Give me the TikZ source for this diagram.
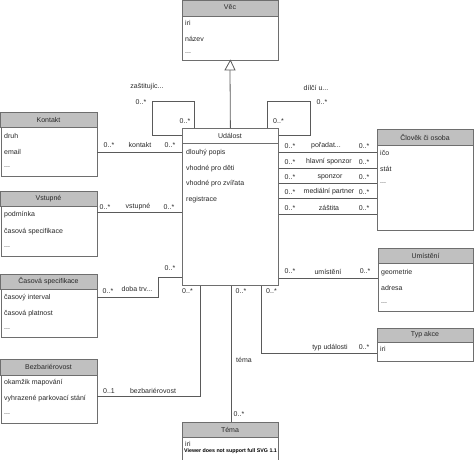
\documentclass[tikz,border=0pt]{standalone}
\usepackage{fontspec}
\setmainfont{Liberation Sans}
\usetikzlibrary{calc}
\definecolor{hdrc}{RGB}{192,192,192}
\definecolor{boxc}{RGB}{110,110,110}
\definecolor{linec}{RGB}{90,90,90}
\definecolor{textc}{RGB}{40,40,40}
\begin{document}
\begin{tikzpicture}[x=1pt,y=-1pt,
  cls/.style={draw=boxc, line width=0.8pt, fill=white, rectangle, inner sep=0pt, anchor=north west},
  hdr/.style={draw=boxc, line width=0.8pt, fill=hdrc},
  txt/.style={font=\fontsize{7}{8}\selectfont, text=textc, inner sep=0pt},
  attr/.style={txt, anchor=west},
  assoc/.style={draw=linec, line width=0.8pt}]
\useasboundingbox (0,0) rectangle (474,459);

% ---------- Vec ----------
\node[cls, minimum width=96pt, minimum height=59pt] (vec) at (182,0.5) {};
\draw[hdr] (vec.north west) rectangle ($(vec.north east)+(0,16)$);
\node[txt] (vech) at (230,7) {Věc};
\node[attr] (veca1) at (185,23) {iri};
\node[attr] (veca2) at (185,39) {název};
\node[attr] (veca3) at (185,53) {...};

% ---------- Udalost ----------
\node[cls, minimum width=96pt, minimum height=157pt] (udalost) at (182,128) {};
\draw[draw=boxc, line width=0.8pt] ($(udalost.north west)+(0,15)$) -- ($(udalost.north east)+(0,15)$);
\node[txt] (udh) at (230,135.5) {Událost};
\node[attr] (uda1) at (186,153) {dlouhý popis};
\node[attr] (uda2) at (186,168.5) {vhodné pro děti};
\node[attr] (uda3) at (186,184) {vhodné pro zvířata};
\node[attr] (uda4) at (186,199.5) {registrace};

% ---------- Kontakt ----------
\node[cls, minimum width=96pt, minimum height=64pt] (kontakt) at (0.5,112) {};
\draw[hdr] (kontakt.north west) rectangle ($(kontakt.north east)+(0,15)$);
\node[txt] (konh) at (48.5,119.5) {Kontakt};
\node[attr] (kona1) at (4,136) {druh};
\node[attr] (kona2) at (4,152) {email};
\node[attr] (kona3) at (4,167) {...};

% ---------- Vstupne ----------
\node[cls, minimum width=96pt, minimum height=65pt] (vstupne) at (0.5,191) {};
\draw[hdr] (vstupne.north west) rectangle ($(vstupne.north east)+(0,15)$);
\node[txt] (vsth) at (48.5,198.5) {Vstupné};
\node[attr] (vsta1) at (4,215) {podmínka};
\node[attr] (vsta2) at (4,232) {časová specifikace};
\node[attr] (vsta3) at (4,247) {...};

% ---------- Casova specifikace ----------
\node[cls, minimum width=96pt, minimum height=63pt] (casova) at (0.5,274) {};
\draw[hdr] (casova.north west) rectangle ($(casova.north east)+(0,15)$);
\node[txt] (cash) at (48.5,281.5) {Časová specifikace};
\node[attr] (casa1) at (4,298) {časový interval};
\node[attr] (casa2) at (4,314) {časová platnost};
\node[attr] (casa3) at (4,329) {...};

% ---------- Bezbarierovost ----------
\node[cls, minimum width=96pt, minimum height=64pt] (bezbar) at (0.5,359) {};
\draw[hdr] (bezbar.north west) rectangle ($(bezbar.north east)+(0,16)$);
\node[txt] (bezh) at (48.5,367) {Bezbariérovost};
\node[attr] (beza1) at (4,383) {okamžik mapování};
\node[attr] (beza2) at (4,399) {vyhrazené parkovací stání};
\node[attr] (beza3) at (4,414) {...};

% ---------- Clovek ci osoba ----------
\node[cls, minimum width=96pt, minimum height=101pt] (clovek) at (377,129) {};
\draw[hdr] (clovek.north west) rectangle ($(clovek.north east)+(0,16)$);
\node[txt] (cloh) at (425,137) {Člověk či osoba};
\node[attr] (cloa1) at (380,153) {ičo};
\node[attr] (cloa2) at (380,168.5) {stát};
\node[attr] (cloa3) at (380,183) {...};

% ---------- Umisteni ----------
\node[cls, minimum width=95pt, minimum height=63pt] (umisteni) at (378,248) {};
\draw[hdr] (umisteni.north west) rectangle ($(umisteni.north east)+(0,15)$);
\node[txt] (umih) at (425.5,255.5) {Umístění};
\node[attr] (umia1) at (381,273) {geometrie};
\node[attr] (umia2) at (381,288) {adresa};
\node[attr] (umia3) at (381,303) {...};

% ---------- Typ akce ----------
\node[cls, minimum width=96pt, minimum height=33pt] (typakce) at (377,328) {};
\draw[hdr] (typakce.north west) rectangle ($(typakce.north east)+(0,14)$);
\node[txt] (typh) at (425,335) {Typ akce};
\node[attr] (typa1) at (380,349) {iri};

% ---------- Tema ----------
\node[cls, minimum width=96pt, minimum height=40pt] (tema) at (182,422) {};
\draw[hdr] (tema.north west) rectangle ($(tema.north east)+(0,15)$);
\node[txt] (temh) at (230,429.5) {Téma};
\node[attr] (tema1) at (185,444) {iri};
\node[attr, font=\bfseries\fontsize{5.3}{6}\selectfont, text=black] (temviewer) at (184,451.5) {Viewer does not support full SVG 1.1};

% ---------- generalization Udalost -> Vec ----------
\coordinate (genbase) at (230,70);
\draw[assoc] (udalost.north) -- (genbase);
\draw[assoc, fill=white] (225,70) -- (vec.south) -- (235,70) -- cycle;

% ---------- self associations ----------
\draw[assoc] (udalost.north west -| 194,0) -- (194,101) -- (152,101) -- (152,135) -- (udalost.west |- 0,135);
\node[txt] (l1) at (147,87) {zaštitujíc...};
\node[txt] (l2) at (141,102) {0..*};
\node[txt] (l3) at (185,121) {0..*};

\draw[assoc] (udalost.north east -| 267,0) -- (267,101) -- (310,101) -- (310,135) -- (udalost.east |- 0,135);
\node[txt] (r1) at (316,88) {dílčí u...};
\node[txt] (r2) at (322,102) {0..*};
\node[txt] (r3) at (278.5,121.5) {0..*};

% ---------- left associations ----------
\draw[assoc] (kontakt.east |- 0,152) -- (udalost.west |- 0,152);
\node[txt] (k1) at (109,145) {0..*};
\node[txt] (k2) at (140,145) {kontakt};
\node[txt] (k3) at (170,145) {0..*};

\draw[assoc] (vstupne.east |- 0,212) -- (udalost.west |- 0,212);
\node[txt] (v1) at (105,207) {0..*};
\node[txt] (v2) at (138,207) {vstupné};
\node[txt] (v3) at (169,207) {0..*};

\draw[assoc] (casova.east |- 0,297) -- (158,297) -- (158,277) -- (udalost.west |- 0,277);
\node[txt] (c1) at (108,291) {0..*};
\node[txt] (c2) at (137,288.5) {doba trv...};
\node[txt] (c3) at (170,268.5) {0..*};

\draw[assoc] (bezbar.east |- 0,396) -- (200,396) -- (udalost.south west -| 200,0);
\node[txt] (b1) at (109,391) {0..1};
\node[txt] (b2) at (153,391) {bezbariérovost};
\node[txt] (b3) at (187.5,291.5) {0..*};

% ---------- bottom associations ----------
\draw[assoc] (udalost.south west -| 231,0) -- (tema.north west -| 231,0);
\node[txt] (t1) at (241,291.5) {0..*};
\node[txt] (t2) at (244,360) {téma};
\node[txt] (t3) at (239,414) {0..*};

\draw[assoc] (udalost.south west -| 261,0) -- (261,353) -- (typakce.west |- 0,353);
\node[txt] (y1) at (271.5,291.5) {0..*};
\node[txt] (y2) at (330,348) {typ události};
\node[txt] (y3) at (364,347.5) {0..*};

% ---------- right associations ----------
\draw[assoc] (udalost.east |- 0,152) -- (clovek.west |- 0,152);
\node[txt] (pa1) at (290,146) {0..*};
\node[txt] (pa2) at (326,146) {pořadat...};
\node[txt] (pa3) at (364,146) {0..*};

\draw[assoc] (udalost.east |- 0,168) -- (clovek.west |- 0,168);
\node[txt] (pb1) at (290,162) {0..*};
\node[txt] (pb2) at (329,162) {hlavní sponzor};
\node[txt] (pb3) at (364,162) {0..*};

\draw[assoc] (udalost.east |- 0,183) -- (clovek.west |- 0,183);
\node[txt] (pc1) at (290,177) {0..*};
\node[txt] (pc2) at (330,177) {sponzor};
\node[txt] (pc3) at (364,177) {0..*};

\draw[assoc] (udalost.east |- 0,198) -- (clovek.west |- 0,198);
\node[txt] (pd1) at (290,192) {0..*};
\node[txt] (pd2) at (329,192) {mediální partner};
\node[txt] (pd3) at (364,192) {0..*};

\draw[assoc] (udalost.east |- 0,214) -- (clovek.west |- 0,214);
\node[txt] (pe1) at (290,208) {0..*};
\node[txt] (pe2) at (329,208) {záštita};
\node[txt] (pe3) at (364,208) {0..*};

\draw[assoc] (udalost.east |- 0,278) -- (umisteni.west |- 0,278);
\node[txt] (u1) at (290,271.5) {0..*};
\node[txt] (u2) at (328,271.5) {umístění};
\node[txt] (u3) at (365,271.5) {0..*};
\end{tikzpicture}
\end{document}
